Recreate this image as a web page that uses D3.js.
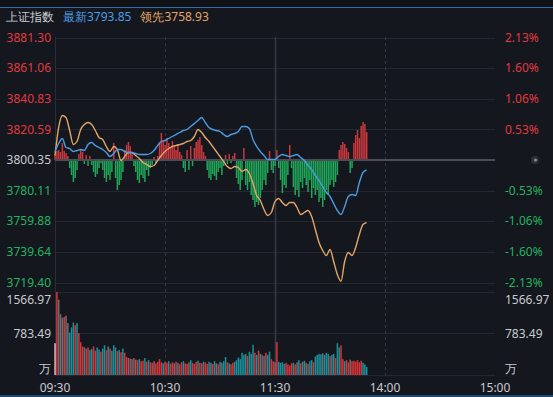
<!DOCTYPE html>
<html>
<head>
<meta charset="utf-8">
<script src="https://cdn.jsdelivr.net/npm/d3@7"></script>
<style>
html, body { margin: 0; padding: 0; background: #15171e; }
svg { display: block; font-family: "Noto Sans", "Open Sans", sans-serif; }
</style>
</head>
<body>
<svg id="chart" width="553" height="397"></svg>
<script>
/*
 * Intraday chart of 上证指数: price (最新) and leading index (领先),
 * breadth bars round the previous close, and per-minute volume.
 */

// price axis labels, top to bottom
var priceTicks = [3881.30, 3861.06, 3840.83, 3820.59, 3800.35, 3780.11, 3759.88, 3739.64, 3719.40];
var pctTicks = ['2.13%', '1.60%', '1.06%', '0.53%', '', '-0.53%', '-1.06%', '-1.60%', '-2.13%'];
var prevClose = 3800.35;

var volTicks = [1566.97, 783.49];
var timeLabels = ['09:30', '10:30', '11:30', '14:00', '15:00'];
var timeMinutes = [0, 60, 120, 180, 240];

// lines, sampled every 2 minutes from 09:30
var lineStep = 2;
var lastPrice = [3805.97,3811.25,3814.56,3808.61,3807.95,3805.97,3806.63,3807.29,3806.63,3810.59,
    3811.91,3809.93,3808.61,3807.29,3805.31,3802.66,3804.65,3807.29,3807.29,3805.97,
    3805.31,3805.31,3804.65,3803.98,3803.98,3803.98,3804.65,3806.63,3809.93,3812.57,
    3813.24,3814.56,3815.88,3817.20,3818.52,3819.84,3820.50,3822.49,3824.47,3826.45,
    3828.43,3825.13,3821.83,3820.50,3819.84,3819.18,3817.20,3815.88,3817.20,3817.86,
    3819.18,3822.49,3822.49,3821.17,3813.90,3809.27,3805.97,3803.32,3800.68,3800.68,
    3800.68,3802.66,3803.98,3803.32,3802.66,3803.32,3803.98,3802.00,3800.02,3796.72,
    3794.07,3790.11,3786.80,3782.84,3778.87,3776.23,3771.61,3766.98,3764.34,3769.62,
    3776.23,3777.55,3776.89,3785.48,3792.09,3793.85];

var leadPrice = [3803.32,3821.83,3829.76,3828.43,3819.84,3810.59,3812.57,3820.50,3823.81,3825.13,
    3823.81,3819.84,3815.22,3813.90,3809.27,3805.97,3809.27,3807.29,3800.02,3802.66,
    3805.31,3805.31,3803.32,3801.34,3798.70,3797.38,3796.05,3796.72,3800.02,3803.32,
    3805.97,3807.95,3809.27,3809.93,3810.59,3811.25,3812.57,3813.24,3815.88,3820.50,
    3818.52,3815.22,3812.57,3809.27,3805.97,3802.66,3799.36,3796.05,3794.73,3796.05,
    3795.39,3792.75,3794.07,3791.43,3784.82,3776.89,3773.59,3767.64,3763.68,3765.66,
    3772.93,3774.91,3772.27,3770.28,3772.27,3772.27,3768.96,3764.34,3765.66,3766.98,
    3763.01,3754.42,3745.83,3740.55,3737.24,3741.21,3733.28,3724.69,3720.20,3733.28,
    3739.23,3737.24,3742.53,3751.12,3757.73,3758.93];

// breadth bars, one per minute (up = red, down = green)
var breadth = [6,9,10,8,17,9,7,4,-8,-15,
    -22,-18,-10,6,10,8,-4,5,-6,4,
    -5,-12,-17,-14,-8,-3,-10,-18,-22,-15,
    -20,-12,17,-18,-30,-25,-20,-12,10,15,
    18,14,8,-6,-12,-20,-23,-15,-18,-22,
    -10,-16,-8,-5,3,-3,4,18,27,20,
    15,22,17,12,19,14,10,16,8,5,
    -8,-12,10,-10,14,-6,12,18,20,23,
    15,8,4,-10,-18,-20,-14,-16,-20,-12,
    -8,-15,-6,5,-4,6,-3,4,7,-18,
    -24,-30,-20,12,-25,-30,-22,-35,-40,-47,
    -42,-45,-38,-30,-20,-25,-13,9,-10,-13,
    -6,10,-8,-20,-33,-25,-28,-15,15,-8,
    -27,-35,-30,-37,-22,-28,-18,-25,-32,-20,
    -38,-28,-35,-30,-42,-38,-47,-40,-30,-35,
    -25,-20,-27,-22,-15,10,15,18,16,12,
    8,-13,-8,17,25,30,22,34,38,36,
    28];

// volume per minute (万) and its direction: 1 up, -1 down, 0 flat
var volume = [600,1567,1420,1150,1080,1100,1120,980,800,900,
    990,940,980,790,620,540,520,500,520,470,
    490,540,460,520,480,440,500,560,470,540,
    500,460,560,520,450,470,430,500,420,340,
    320,310,300,320,290,280,300,260,270,320,
    250,280,240,230,260,220,250,300,240,220,
    250,230,260,210,240,220,250,230,200,240,
    260,220,210,240,280,230,210,250,270,230,
    220,250,240,210,250,230,210,260,220,200,
    250,230,260,340,240,220,200,230,250,280,
    330,300,420,380,400,360,440,400,570,420,
    380,460,400,380,360,420,380,440,300,260,
    240,623,250,230,240,210,230,200,180,220,
    230,200,240,280,220,250,270,230,210,260,
    280,240,350,380,400,390,410,380,420,400,
    360,380,400,320,600,520,560,300,260,280,
    240,290,260,270,250,280,240,270,230,200,
    150];
var volDir = [0,1,0,0,0,1,0,0,-1,-1,
    -1,1,-1,1,1,1,-1,1,1,-1,
    -1,1,1,-1,-1,1,-1,-1,1,-1,
    1,-1,-1,-1,1,-1,1,-1,1,1,
    0,1,-1,1,0,1,-1,1,1,-1,
    1,-1,1,1,0,1,1,1,1,-1,
    1,1,-1,1,1,0,1,-1,1,1,
    -1,1,1,0,-1,1,1,1,-1,1,
    1,-1,1,1,-1,0,1,-1,0,1,
    -1,0,-1,-1,1,-1,1,1,-1,-1,
    -1,-1,-1,-1,-1,1,-1,-1,-1,1,
    -1,1,-1,1,-1,1,-1,-1,1,1,
    0,1,-1,-1,-1,-1,1,1,1,1,
    -1,1,0,-1,1,-1,0,-1,1,-1,
    -1,1,-1,-1,-1,-1,0,-1,-1,-1,
    1,-1,-1,1,-1,-1,1,1,-1,1,
    1,0,1,1,1,1,1,1,-1,-1,
    -1];

var RED = '#e0393e', GREEN = '#22b35e', GREY = '#c8cad0';

var svg = d3.select('#chart');

/*
 * Scales
 */
var x = d3.scaleLinear().domain([0, 240]).range([55, 495]);
var yPrice = d3.scaleLinear().domain([3719.40, 3881.30]).range([282.5, 37.5]);
var y0 = yPrice(prevClose);
var yBreadth = d3.scaleLinear().domain([-60, 60]).range([y0 + 60, y0 - 60]);
var yVol = d3.scaleLinear().domain([0, 1566.97]).range([375, 292]);

// background pieces
svg.append('rect').attr('width', 553).attr('height', 397).attr('fill', '#15171e');
svg.append('rect').attr('width', 553).attr('height', 7).attr('fill', '#0f1115');
svg.append('line').attr('x1', 0).attr('x2', 553).attr('y1', 7.5).attr('y2', 7.5)
    .attr('stroke', '#2f6db0').attr('stroke-width', 1);
svg.append('line').attr('x1', 0).attr('x2', 553).attr('y1', 396).attr('y2', 396)
    .attr('stroke', '#1c4a72').attr('stroke-width', 2);

// header
var head = svg.append('text').attr('x', 6).attr('y', 17).attr('dy', '0.35em')
    .style('font-size', '12px');
head.append('tspan').attr('fill', '#c9ccd2').text('上证指数');
head.append('tspan').attr('dx', 9).attr('fill', '#4a9de2').text('最新' + lastPrice[lastPrice.length - 1].toFixed(2));
head.append('tspan').attr('dx', 9).attr('fill', '#e2a566').text('领先' + leadPrice[leadPrice.length - 1].toFixed(2));

/*
 * Grid
 */
var grid = svg.append('g');
grid.selectAll('line.h').data(priceTicks).enter().append('line')
    .attr('x1', x(0)).attr('x2', x(240))
    .attr('y1', function(d) { return Math.round(yPrice(d)) + 0.5; })
    .attr('y2', function(d) { return Math.round(yPrice(d)) + 0.5; })
    .attr('stroke', '#252833');
grid.selectAll('line.v').data([1566.97, 783.49, 0]).enter().append('line')
    .attr('x1', x(0)).attr('x2', x(240))
    .attr('y1', function(d) { return Math.round(yVol(d)) + 0.5; })
    .attr('y2', function(d) { return Math.round(yVol(d)) + 0.5; })
    .attr('stroke', '#252833');
grid.selectAll('line.t').data(timeMinutes.slice(1, 4)).enter().append('line')
    .attr('x1', function(d) { return Math.round(x(d)) + 0.5; })
    .attr('x2', function(d) { return Math.round(x(d)) + 0.5; })
    .attr('y1', 37).attr('y2', 375)
    .attr('stroke', function(d) { return d === 120 ? '#363a45' : '#323644'; })
    .attr('stroke-width', function(d) { return d === 120 ? 1.5 : 1; })
    .attr('stroke-dasharray', function(d) { return d === 120 ? null : '3,3'; });
grid.append('line').attr('x1', 55.5).attr('x2', 55.5).attr('y1', 37).attr('y2', 375)
    .attr('stroke', '#2a2d38');

/*
 * Breadth bars round the previous close
 */
svg.append('g').selectAll('rect').data(breadth).enter().append('rect')
    .attr('x', function(d, i) { return x(i) - 0.7; })
    .attr('width', 1.5)
    .attr('y', function(d) { return d > 0 ? yBreadth(d) : y0; })
    .attr('height', function(d) { return Math.abs(yBreadth(d) - y0); })
    .attr('fill', function(d) { return d > 0 ? '#c8383c' : '#1fa658'; });

svg.append('line').attr('x1', x(0)).attr('x2', x(240)).attr('y1', y0).attr('y2', y0)
    .attr('stroke', '#4a4d57').attr('stroke-width', 2);

/*
 * Price lines
 */
var line = d3.line()
    .x(function(d, i) { return x(i * lineStep); })
    .y(function(d) { return yPrice(d); })
    .curve(d3.curveMonotoneX);

svg.append('path').datum(leadPrice).attr('d', line)
    .attr('fill', 'none').attr('stroke', '#e2a566').attr('stroke-width', 1.4);
svg.append('path').datum(lastPrice).attr('d', line)
    .attr('fill', 'none').attr('stroke', '#4a9de2').attr('stroke-width', 1.4);

/*
 * Volume
 */
svg.append('g').selectAll('rect').data(volume).enter().append('rect')
    .attr('x', function(d, i) { return x(i) - 0.7; })
    .attr('width', 1.5)
    .attr('y', function(d) { return yVol(d); })
    .attr('height', function(d) { return yVol(0) - yVol(d); })
    .attr('fill', function(d, i) {
        if (i === 0) return '#e9b7c0';
        return volDir[i] > 0 ? '#d6363a' : (volDir[i] < 0 ? '#1d8f99' : '#6e6e74');
    });

/*
 * Axis labels
 */
var labels = svg.append('g').style('font-size', '12px');
labels.selectAll('text.l').data(priceTicks).enter().append('text')
    .attr('x', 51).attr('y', function(d) { return yPrice(d); }).attr('dy', '0.35em')
    .attr('text-anchor', 'end')
    .attr('fill', function(d) { return d > prevClose ? RED : (d < prevClose ? GREEN : GREY); })
    .text(function(d) { return d.toFixed(2); });
labels.selectAll('text.r').data(pctTicks).enter().append('text')
    .attr('x', 505).attr('y', function(d, i) { return yPrice(priceTicks[i]); }).attr('dy', '0.35em')
    .attr('fill', function(d, i) { return i < 4 ? RED : GREEN; })
    .text(function(d) { return d; });

// marker at the right end of the zero line
svg.append('circle').attr('cx', 535).attr('cy', y0).attr('r', 4).attr('fill', '#2c2f37');
svg.append('circle').attr('cx', 535.5).attr('cy', y0).attr('r', 1.5).attr('fill', '#8a8d95');

var volLabelY = [yVol(1566.97) + 8, yVol(783.49), yVol(0) - 6];
var volLabelText = [volTicks[0].toFixed(2), volTicks[1].toFixed(2), '万'];
[51, 505].forEach(function(lx) {
    labels.selectAll(null).data(volLabelText).enter().append('text')
        .attr('x', lx).attr('y', function(d, i) { return volLabelY[i]; }).attr('dy', '0.35em')
        .attr('text-anchor', lx < 100 ? 'end' : 'start')
        .attr('fill', GREY)
        .text(function(d) { return d; });
});

labels.selectAll('text.t').data(timeLabels).enter().append('text')
    .attr('x', function(d, i) { return x(timeMinutes[i]); }).attr('y', 388).attr('dy', '0.35em')
    .attr('text-anchor', 'middle').attr('fill', GREY)
    .text(function(d) { return d; });
</script>
</body>
</html>
